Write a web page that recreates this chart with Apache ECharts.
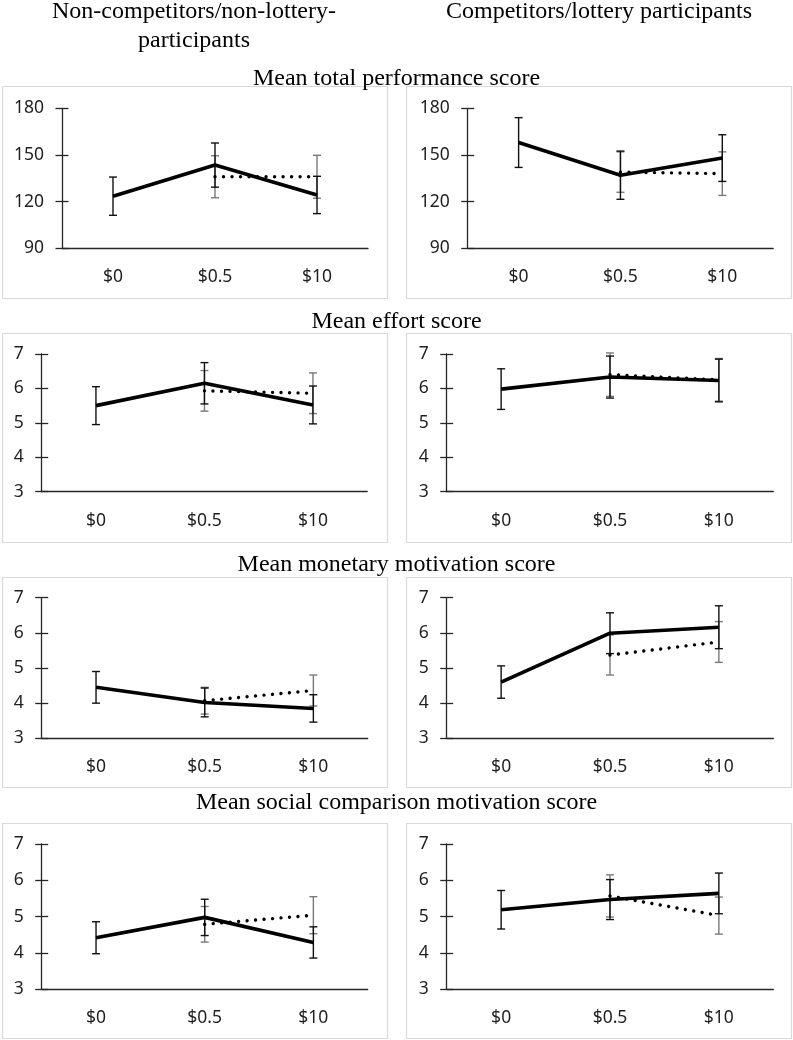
<!DOCTYPE html>
<html><head><meta charset="utf-8">
<script src="https://cdn.jsdelivr.net/npm/echarts@6/dist/echarts.min.js"></script>
<style>html,body{margin:0;padding:0;background:#fff}#c{width:793px;height:1040px}</style>
</head><body><div id="c"></div>
<script>
// ---------- DATA ----------
const categories = ['$0', '$0.5', '$10'];
const columnTitles = ['Non-competitors/non-lottery-\nparticipants', 'Competitors/lottery participants'];
const rowTitles = ['Mean total performance score', 'Mean effort score', 'Mean monetary motivation score', 'Mean social comparison motivation score'];
const perfTicks = [90, 120, 150, 180];
const scoreTicks = [3, 4, 5, 6, 7];

// Mean total performance score
const perfNonSolid = [123.5, 143.5, 124.3];
const perfNonSolidErr = [12.3, 14.2, 12.0];
const perfNonDotted = [null, 136, 136];
const perfNonDottedErr = [null, 13.5, 13.8];
const perfCompSolid = [158, 137, 148];
const perfCompSolidErr = [16, 15.5, 15];
const perfCompDotted = [null, 139, 138];
const perfCompDottedErr = [null, 13, 14];

// Mean effort score
const effNonSolid = [5.50, 6.15, 5.52];
const effNonSolidErr = [0.55, 0.60, 0.55];
const effNonDotted = [null, 5.93, 5.86];
const effNonDottedErr = [null, 0.59, 0.59];
const effCompSolid = [5.98, 6.33, 6.23];
const effCompSolidErr = [0.59, 0.61, 0.62];
const effCompDotted = [null, 6.40, 6.25];
const effCompDottedErr = [null, 0.63, 0.62];

// Mean monetary motivation score
const monNonSolid = [4.45, 4.02, 3.85];
const monNonSolidErr = [0.45, 0.41, 0.39];
const monNonDotted = [null, 4.07, 4.36];
const monNonDottedErr = [null, 0.38, 0.44];
const monCompSolid = [4.60, 5.99, 6.16];
const monCompSolidErr = [0.46, 0.58, 0.61];
const monCompDotted = [null, 5.37, 5.74];
const monCompDottedErr = [null, 0.57, 0.58];

// Mean social comparison motivation score
const socNonSolid = [4.42, 4.98, 4.29];
const socNonSolidErr = [0.44, 0.50, 0.43];
const socNonDotted = [null, 4.79, 5.04];
const socNonDottedErr = [null, 0.49, 0.51];
const socCompSolid = [5.19, 5.47, 5.64];
const socCompSolidErr = [0.53, 0.55, 0.56];
const socCompDotted = [null, 5.57, 5.03];
const socCompDottedErr = [null, 0.58, 0.51];

const panels = [
  { solid: perfNonSolid, solidErr: perfNonSolidErr, dotted: perfNonDotted, dottedErr: perfNonDottedErr, ticks: perfTicks },
  { solid: perfCompSolid, solidErr: perfCompSolidErr, dotted: perfCompDotted, dottedErr: perfCompDottedErr, ticks: perfTicks },
  { solid: effNonSolid, solidErr: effNonSolidErr, dotted: effNonDotted, dottedErr: effNonDottedErr, ticks: scoreTicks },
  { solid: effCompSolid, solidErr: effCompSolidErr, dotted: effCompDotted, dottedErr: effCompDottedErr, ticks: scoreTicks },
  { solid: monNonSolid, solidErr: monNonSolidErr, dotted: monNonDotted, dottedErr: monNonDottedErr, ticks: scoreTicks },
  { solid: monCompSolid, solidErr: monCompSolidErr, dotted: monCompDotted, dottedErr: monCompDottedErr, ticks: scoreTicks },
  { solid: socNonSolid, solidErr: socNonSolidErr, dotted: socNonDotted, dottedErr: socNonDottedErr, ticks: scoreTicks },
  { solid: socCompSolid, solidErr: socCompSolidErr, dotted: socCompDotted, dottedErr: socCompDottedErr, ticks: scoreTicks }
];

// ---------- LAYOUT ----------
const gridRects = [
  [62, 108.3, 306, 140], [467.7, 108.3, 305.5, 140],
  [41.7, 354, 325.5, 137.7], [446.7, 354, 326.6, 137.7],
  [41.7, 597.7, 326, 140.6], [446.7, 597.7, 326.6, 140.6],
  [41.7, 844, 326, 145.3], [446.7, 844, 326.6, 145.3]
];
const boxRows = [[86, 298], [333, 542], [577, 787], [823, 1038]];
const boxCols = [[2, 387], [406, 791]];
const rowTitleTops = [66.6, 309.5, 552.6, 791];

const AXIS = '#262626';
const LABEL_COLOR = '#1f1f1f';
const LABEL_FONT = 'Noto Sans';
const SERIF = 'Liberation Serif';

function errRender(color) {
  return function (params, api) {
    const i = api.value(0), v = api.value(1), e = api.value(2);
    const hi = api.coord([i, v + e]);
    const lo = api.coord([i, v - e]);
    const w = 4;
    const style = { stroke: color, lineWidth: 1.4, fill: null };
    return {
      type: 'group', children: [
        { type: 'line', shape: { x1: hi[0], y1: hi[1], x2: lo[0], y2: lo[1] }, style },
        { type: 'line', shape: { x1: hi[0] - w, y1: hi[1], x2: hi[0] + w, y2: hi[1] }, style },
        { type: 'line', shape: { x1: lo[0] - w, y1: lo[1], x2: lo[0] + w, y2: lo[1] }, style }
      ]
    };
  };
}
function errData(vals, errs) {
  const out = [];
  vals.forEach((v, i) => { if (v != null && errs[i] != null) out.push([i, v, errs[i]]); });
  return out;
}

const grid = [], xAxis = [], yAxis = [], series = [];
panels.forEach((p, k) => {
  const r = gridRects[k];
  grid.push({ left: r[0], top: r[1], width: r[2], height: r[3] });
  xAxis.push({
    type: 'category', gridIndex: k, data: categories, boundaryGap: true,
    axisLine: { lineStyle: { color: AXIS, width: 1.3 } },
    axisTick: { show: false },
    axisLabel: { color: LABEL_COLOR, fontFamily: LABEL_FONT, fontSize: 17.5, margin: 20 },
    splitLine: { show: false }
  });
  const t = p.ticks;
  const yBase = {
    type: 'value', gridIndex: k, position: 'left',
    min: t[0], max: t[t.length - 1], interval: t[1] - t[0],
    splitLine: { show: false }
  };
  yAxis.push(Object.assign({}, yBase, {
    axisLine: { show: true, lineStyle: { color: AXIS, width: 1.3 } },
    axisTick: { show: true, inside: false, length: 6.5, lineStyle: { color: AXIS, width: 1.3 } },
    axisLabel: { color: LABEL_COLOR, fontFamily: LABEL_FONT, fontSize: 17.5, margin: 18 }
  }));
  yAxis.push(Object.assign({}, yBase, {
    axisLine: { show: false },
    axisTick: { show: true, inside: true, length: 6.5, lineStyle: { color: AXIS, width: 1.3 } },
    axisLabel: { show: false }
  }));
  const yi = 2 * k;
  series.push({
    type: 'custom', xAxisIndex: k, yAxisIndex: yi, renderItem: errRender('#7a7a7a'),
    data: errData(p.dotted, p.dottedErr), encode: { x: 0, y: 1 }, z: 2, clip: false, silent: true
  });
  series.push({
    type: 'custom', xAxisIndex: k, yAxisIndex: yi, renderItem: errRender('#111'),
    data: errData(p.solid, p.solidErr), encode: { x: 0, y: 1 }, z: 3, clip: false, silent: true
  });
  series.push({
    type: 'line', xAxisIndex: k, yAxisIndex: yi, data: p.solid, showSymbol: false, symbol: 'none',
    lineStyle: { color: '#000', width: 3.6 }, z: 4, animation: false, silent: true
  });
  series.push({
    type: 'line', xAxisIndex: k, yAxisIndex: yi, data: p.dotted.map(v => v == null ? '-' : v),
    showSymbol: false, symbol: 'none',
    lineStyle: { color: '#000', width: 3.4, type: [0.01, 8.5], cap: 'round' }, z: 5, animation: false, silent: true
  });
});

const title = [
  { text: columnTitles[0], left: 194, top: -2.6, textAlign: 'center', padding: 0,
    textStyle: { fontFamily: SERIF, fontWeight: 'normal', fontSize: 24, lineHeight: 29, color: '#000' } },
  { text: columnTitles[1], left: 599, top: -2.6, textAlign: 'center', padding: 0,
    textStyle: { fontFamily: SERIF, fontWeight: 'normal', fontSize: 24, lineHeight: 29, color: '#000' } }
];
rowTitles.forEach((txt, i) => {
  title.push({ text: txt, left: 396.5, top: rowTitleTops[i], textAlign: 'center', padding: 0,
    textStyle: { fontFamily: SERIF, fontWeight: 'normal', fontSize: 24, lineHeight: 24, color: '#000' } });
});

const graphic = [];
boxRows.forEach(br => {
  boxCols.forEach(bc => {
    graphic.push({ type: 'rect', silent: true, z: -1,
      shape: { x: bc[0] + 0.5, y: br[0] + 0.5, width: bc[1] - bc[0], height: br[1] - br[0] },
      style: { fill: null, stroke: '#d9d9d9', lineWidth: 1.2 } });
  });
});

const chart = echarts.init(document.getElementById('c'), null, { renderer: 'canvas' });
chart.setOption({
  animation: false,
  backgroundColor: '#fff',
  title, graphic, grid, xAxis, yAxis, series,
  tooltip: { show: false }
});
</script>
</body></html>
